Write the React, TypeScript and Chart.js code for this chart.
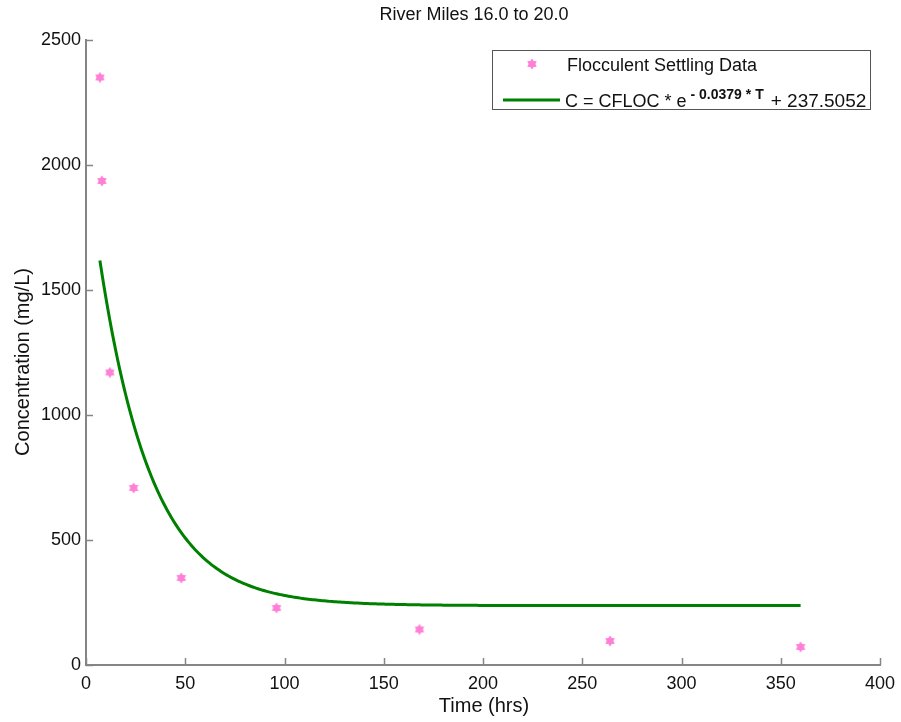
import React, { useEffect, useRef } from "react";
import { Chart, registerables } from "chart.js";

Chart.register(...registerables);

// Measured concentrations from the settling column
const sampleTimes = [7, 8, 12, 24, 48, 96, 168, 264, 360];
const sampleConc = [2350, 1936, 1170, 708, 348, 228, 142, 96, 72];

// Fitted decay: C = CFLOC * e^(-k T) + C_inf
const FIT_K = 0.0379;
const FIT_OFFSET = 237.5052;
const CFLOC = 1800;
const fitStart = 7;
const fitEnd = 360;

const xTicks = [0, 50, 100, 150, 200, 250, 300, 350, 400];
const yTicks = [0, 500, 1000, 1500, 2000, 2500];

const titleText = "River Miles 16.0 to 20.0";
const xLabel = "Time (hrs)";
const yLabel = "Concentration (mg/L)";
const legendData = "Flocculent Settling Data";

const PINK = "#ff80d6";
const GREEN = "#008000";
const AXIS = "#858585";
const FONT = "'Liberation Sans', Arial, sans-serif";

function starImage(): HTMLCanvasElement {
  const c = document.createElement("canvas");
  c.width = 12;
  c.height = 12;
  const g = c.getContext("2d")!;
  g.fillStyle = PINK;
  g.beginPath();
  const cx = 6, cy = 6, ro = 5.5, ri = 3.4;
  for (let i = 0; i < 12; i++) {
    const a = -Math.PI / 2 + (i * Math.PI) / 6;
    const r = i % 2 === 0 ? ro : ri;
    const px = cx + r * Math.cos(a);
    const py = cy + r * Math.sin(a);
    if (i === 0) g.moveTo(px, py);
    else g.lineTo(px, py);
  }
  g.closePath();
  g.fill();
  return c;
}

export default function App() {
  const ref = useRef<HTMLCanvasElement | null>(null);

  useEffect(() => {
    const canvas = ref.current;
    if (!canvas) return;
    const star = starImage();

    const fitPts: { x: number; y: number }[] = [];
    for (let t = fitStart; t <= fitEnd; t += 1) {
      fitPts.push({ x: t, y: CFLOC * Math.exp(-FIT_K * t) + FIT_OFFSET });
    }

    const decorations = {
      id: "decorations",
      afterDraw(chart: any) {
        const ctx = chart.ctx as CanvasRenderingContext2D;
        const { left, bottom } = chart.chartArea;
        const xs = chart.scales.x;
        const ys = chart.scales.y;
        ctx.save();
        // inward tick marks
        ctx.strokeStyle = AXIS;
        ctx.lineWidth = 1.5;
        for (const v of xTicks) {
          const px = Math.round(xs.getPixelForValue(v)) + 0.5;
          ctx.beginPath();
          ctx.moveTo(px, bottom);
          ctx.lineTo(px, bottom - 7);
          ctx.stroke();
        }
        for (const v of yTicks) {
          const py = Math.round(ys.getPixelForValue(v)) + 0.5;
          ctx.beginPath();
          ctx.moveTo(left, py);
          ctx.lineTo(left + 7, py);
          ctx.stroke();
        }

        ctx.fillStyle = "#111";
        ctx.textAlign = "center";
        ctx.textBaseline = "middle";
        ctx.font = `18px ${FONT}`;
        ctx.fillText(titleText, 474, 15);
        ctx.font = `20px ${FONT}`;
        ctx.fillText(xLabel, 484, 706);
        ctx.save();
        ctx.translate(23, 362);
        ctx.rotate(-Math.PI / 2);
        ctx.fillText(yLabel, 0, 0);
        ctx.restore();

        // legend
        const lx = 492, ly = 50, lw = 378, lh = 59;
        ctx.fillStyle = "#fff";
        ctx.fillRect(lx, ly, lw, lh);
        ctx.strokeStyle = "#555";
        ctx.lineWidth = 1;
        ctx.strokeRect(lx + 0.5, ly + 0.5, lw, lh);
        ctx.drawImage(star, 532 - 6, 64 - 6);
        ctx.strokeStyle = GREEN;
        ctx.lineWidth = 3;
        ctx.beginPath();
        ctx.moveTo(503, 100);
        ctx.lineTo(560, 100);
        ctx.stroke();

        ctx.fillStyle = "#111";
        ctx.textAlign = "left";
        ctx.textBaseline = "alphabetic";
        ctx.font = `18px ${FONT}`;
        ctx.fillText(legendData, 567, 71);
        let tx = 565;
        const base = 107;
        const part1 = "C = CFLOC * e";
        ctx.fillText(part1, tx, base);
        tx += ctx.measureText(part1).width + 4;
        ctx.font = `bold 14px ${FONT}`;
        const sup = "- 0.0379 * T";
        ctx.fillText(sup, tx, base - 8);
        tx += ctx.measureText(sup).width + 7;
        ctx.font = `19px ${FONT}`;
        ctx.fillText("+ 237.5052", tx, base);
        ctx.restore();
      },
    };

    const chart = new Chart(canvas, {
      type: "scatter",
      data: {
        datasets: [
          {
            type: "line",
            label: "fit",
            data: fitPts,
            borderColor: GREEN,
            borderWidth: 3,
            pointRadius: 0,
            fill: false,
            tension: 0,
            order: 2,
          } as any,
          {
            label: legendData,
            data: sampleTimes.map((t, i) => ({ x: t, y: sampleConc[i] })),
            pointStyle: star as any,
            pointRadius: 6,
            backgroundColor: PINK,
            borderColor: PINK,
            order: 1,
          },
        ],
      },
      plugins: [decorations],
      options: {
        animation: false,
        responsive: false,
        devicePixelRatio: 1,
        layout: { padding: { top: 40, right: 21, left: 0, bottom: 0 } },
        plugins: {
          legend: { display: false },
          tooltip: { enabled: false },
          title: { display: false },
        },
        scales: {
          x: {
            type: "linear",
            min: 0,
            max: 400,
            afterBuildTicks: (s: any) => {
              s.ticks = xTicks.map((v) => ({ value: v }));
            },
            afterFit: (s: any) => {
              s.height = 57;
              s.paddingRight = 0;
              s.paddingLeft = 0;
            },
            grid: { display: false, drawTicks: false },
            border: { display: true, color: AXIS, width: 2 },
            ticks: {
              color: "#111",
              font: { family: FONT, size: 18 },
              padding: 8,
              maxRotation: 0,
              callback: (v: any) => String(v),
            },
          },
          y: {
            type: "linear",
            min: 0,
            max: 2500,
            afterBuildTicks: (s: any) => {
              s.ticks = yTicks.map((v) => ({ value: v }));
            },
            afterFit: (s: any) => {
              s.width = 86;
              s.paddingTop = 0;
              s.paddingBottom = 0;
            },
            grid: { display: false, drawTicks: false },
            border: { display: true, color: AXIS, width: 2 },
            ticks: {
              color: "#111",
              font: { family: FONT, size: 18 },
              padding: 5,
              callback: (v: any) => String(v),
            },
          },
        },
      },
    });
    return () => chart.destroy();
  }, []);

  return (
    <div style={{ position: "absolute", left: 0, top: 0, width: 901, height: 722, background: "#fff" }}>
      <canvas ref={ref} width={901} height={722} style={{ width: 901, height: 722 }} />
    </div>
  );
}
